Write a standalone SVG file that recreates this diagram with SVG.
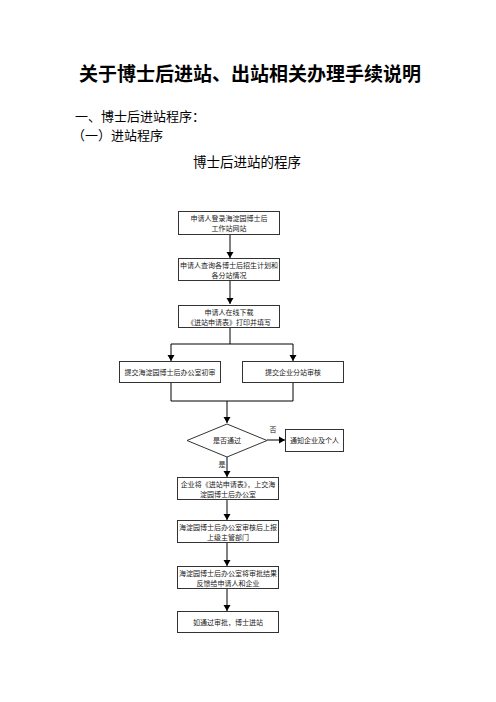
<svg xmlns="http://www.w3.org/2000/svg" width="496" height="702" viewBox="0 0 496 702">
<defs>
<marker id="ah" markerWidth="8" markerHeight="8" refX="6" refY="4" orient="auto" markerUnits="userSpaceOnUse">
<path d="M0,0.5 L6,4 L0,7.5 Z" fill="#000"/>
</marker>
<style>
.box{fill:#fff;stroke:#333;stroke-width:1}
.t{font-family:"Noto Sans CJK SC","Noto Sans CJK JP",sans-serif;font-size:7px;fill:#222;text-anchor:middle}
.ln{fill:none;stroke:#000;stroke-width:1}
.ar{fill:none;stroke:#000;stroke-width:1;marker-end:url(#ah)}
.h{font-family:"Noto Sans CJK SC","Noto Sans CJK JP",sans-serif;fill:#000}
</style>
</defs>
<rect width="496" height="702" fill="#fff"/>
<text class="h" x="250" y="81" font-size="19" font-weight="bold" text-anchor="middle">关于博士后进站、出站相关办理手续说明</text>
<text class="h" x="75" y="121" font-size="13">一、博士后进站程序：</text>
<text class="h" x="72" y="140" font-size="13">（一）进站程序</text>
<text class="h" x="247" y="167" font-size="13.5" text-anchor="middle">博士后进站的程序</text>

<g id="connectors">
<path class="ar" d="M230,234 V258"/>
<path class="ar" d="M230,281 V304"/>
<path class="ln" d="M230,327 V344 M171,344 H293"/>
<path class="ar" d="M171,344 V361"/>
<path class="ar" d="M293,344 V361"/>
<path class="ln" d="M171,382 V401 H293 V382"/>
<path class="ar" d="M227,401 V423"/>
<path class="ar" d="M267,440 H285"/>
<path class="ar" d="M227,457 V477"/>
<path class="ar" d="M227,499 V520"/>
<path class="ar" d="M227,542 V566"/>
<path class="ar" d="M227,588 V611"/>
</g>

<g id="n1"><rect class="box" x="178.5" y="211.5" width="101" height="23"/>
<text class="t" x="229" y="221">申请人登录海淀园博士后</text><text class="t" x="229" y="230.5">工作站网站</text></g>
<g id="n2"><rect class="box" x="178.5" y="258.5" width="101" height="22"/>
<text class="t" x="229" y="268">申请人查询各博士后招生计划和</text><text class="t" x="229" y="277.5">各分站情况</text></g>
<g id="n3"><rect class="box" x="178.5" y="305.5" width="101" height="22"/>
<text class="t" x="229" y="315">申请人在线下载</text><text class="t" x="229" y="324.5">《进站申请表》打印并填写</text></g>
<g id="n4"><rect class="box" x="119.5" y="361.5" width="101" height="21"/>
<text class="t" x="170" y="374.5">提交海淀园博士后办公室初审</text></g>
<g id="n5"><rect class="box" x="242.5" y="361.5" width="101" height="21"/>
<text class="t" x="293" y="374.5">提交企业分站审核</text></g>
<g id="n6"><path class="box" d="M227,424 L267,440.5 L227,457 L187,440.5 Z"/>
<text class="t" x="227" y="443">是否通过</text></g>
<g id="n7"><rect class="box" x="285.5" y="429.5" width="58" height="22"/>
<text class="t" x="314.5" y="443">通知企业及个人</text></g>
<text class="t" x="273" y="432">否</text>
<text class="t" x="222" y="467">是</text>
<g id="n8"><rect class="box" x="177.5" y="477.5" width="101" height="22"/>
<text class="t" x="228" y="487">企业将《进站申请表》，上交海</text><text class="t" x="228" y="496.5">淀园博士后办公室</text></g>
<g id="n9"><rect class="box" x="177.5" y="520.5" width="101" height="22"/>
<text class="t" x="228" y="530">海淀园博士后办公室审核后上报</text><text class="t" x="228" y="539.5">上级主管部门</text></g>
<g id="n10"><rect class="box" x="177.5" y="566.5" width="101" height="22"/>
<text class="t" x="228" y="576">海淀园博士后办公室将审批结果</text><text class="t" x="228" y="585.5">反馈给申请人和企业</text></g>
<g id="n11"><rect class="box" x="177.5" y="611.5" width="101" height="21"/>
<text class="t" x="228" y="624.5">如通过审批，博士进站</text></g>
</svg>
